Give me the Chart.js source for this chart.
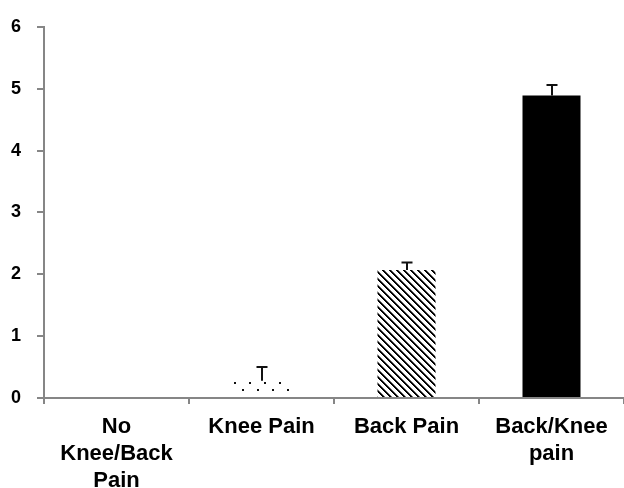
<!DOCTYPE html>
<html>
<head>
<meta charset="utf-8">
<script src="https://cdn.jsdelivr.net/npm/chart.js@4"></script>
<style>
  html, body { margin: 0; padding: 0; background: #fff; }
  canvas { display: block; }
</style>
</head>
<body>
<canvas id="c" width="624" height="488"></canvas>
<script>
// Groups, group means and their upper error (SE)
const categories = [['No', 'Knee/Back', 'Pain'], 'Knee Pain', 'Back Pain', ['Back/Knee', 'pain']];
const means = [0, 0.28, 2.07, 4.89];
const errors = [0, 0.22, 0.12, 0.17];
const yTicks = [0, 1, 2, 3, 4, 5, 6];

// Sparse dot fill
function dotPattern(ctx) {
  const t = document.createElement('canvas');
  t.width = 15; t.height = 15;
  const g = t.getContext('2d');
  g.fillStyle = '#111';
  g.fillRect(9, 7, 2, 2);
  g.fillRect(2, 14, 2, 1);
  g.fillRect(2, 0, 2, 1);
  return ctx.createPattern(t, 'repeat');
}

// Dense diagonal hatch fill
function hatchPattern(ctx) {
  const n = 7;
  const t = document.createElement('canvas');
  t.width = n; t.height = n;
  const g = t.getContext('2d');
  g.fillStyle = '#fff';
  g.fillRect(0, 0, n, n);
  for (let i = 0; i < n; i++) {
    g.fillStyle = '#000';
    g.fillRect(i, i, 1, 1);
    g.fillRect((i + 1) % n, i, 1, 1);
    g.fillStyle = '#777';
    g.fillRect((i + 2) % n, i, 1, 1);
  }
  return ctx.createPattern(t, 'repeat');
}

// Upper-only error bars with a small cap
const errorBars = {
  id: 'errorBars',
  afterDatasetsDraw(chart) {
    const meta = chart.getDatasetMeta(0);
    const y = chart.scales.y;
    const ctx = chart.ctx;
    ctx.save();
    ctx.strokeStyle = '#111';
    ctx.lineWidth = 2;
    meta.data.forEach((bar, i) => {
      const e = errors[i];
      if (!e) return;
      const x = Math.round(bar.x);
      const base = y.getPixelForValue(means[i]);
      const top = y.getPixelForValue(means[i] + e);
      ctx.beginPath();
      ctx.moveTo(x, base);
      ctx.lineTo(x, top);
      ctx.moveTo(x - 5.5, top);
      ctx.lineTo(x + 5.5, top);
      ctx.stroke();
    });
    ctx.restore();
  }
};

const canvas = document.getElementById('c');
const ctx = canvas.getContext('2d');
const axisGrey = '#868686';
const fontFamily = '"Liberation Sans", Arial, sans-serif';

new Chart(ctx, {
  type: 'bar',
  data: {
    labels: categories,
    datasets: [{
      data: means,
      backgroundColor: ['rgba(0,0,0,0)', dotPattern(ctx), hatchPattern(ctx), '#000'],
      borderWidth: 0,
      categoryPercentage: 1,
      barPercentage: 0.4
    }]
  },
  options: {
    responsive: false,
    animation: false,
    layout: { padding: { top: 22, right: 0, bottom: 0, left: 0 } },
    plugins: { legend: { display: false }, tooltip: { enabled: false } },
    scales: {
      x: {
        offset: true,
        grid: { offset: true, drawOnChartArea: false, color: axisGrey, lineWidth: 2, tickLength: 6 },
        border: { color: axisGrey, width: 2 },
        ticks: {
          color: '#000',
          font: { family: fontFamily, size: 22, weight: 'bold', lineHeight: 1.23 },
          padding: 9,
          maxRotation: 0,
          autoSkip: false
        },
        afterFit(s) { s.height = 90; }
      },
      y: {
        min: 0,
        max: 6,
        afterBuildTicks(s) { s.ticks = yTicks.map(v => ({ value: v })); },
        grid: { drawOnChartArea: false, color: axisGrey, lineWidth: 2, tickLength: 7 },
        border: { color: axisGrey, width: 2 },
        ticks: {
          color: '#000',
          font: { family: fontFamily, size: 18, weight: 'bold' },
          padding: 16
        },
        afterFit(s) { s.width = 44; }
      }
    }
  },
  plugins: [errorBars]
});
</script>
</body>
</html>
